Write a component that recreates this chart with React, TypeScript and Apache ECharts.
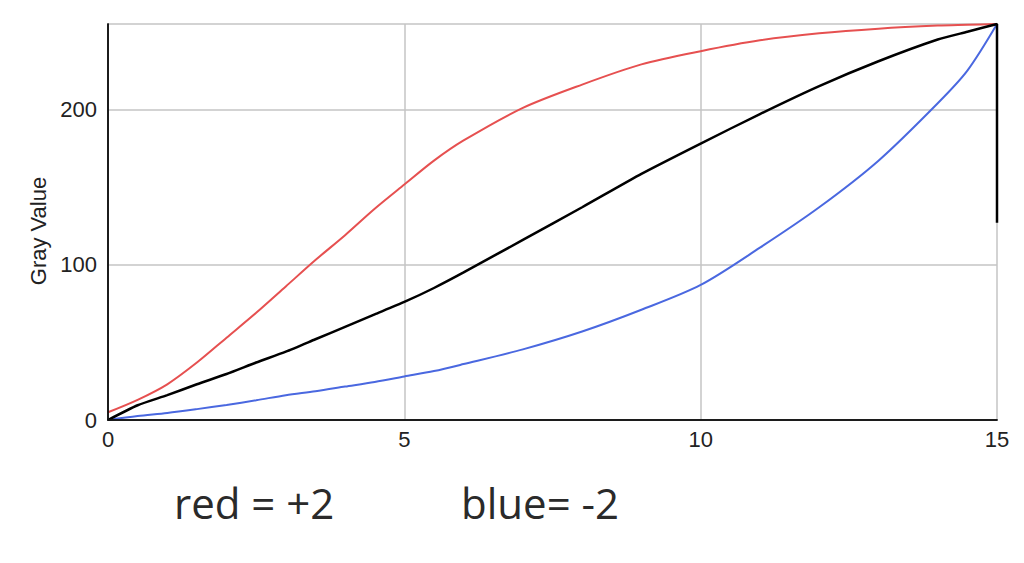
import React, { useEffect, useRef } from "react";
import * as echarts from "echarts";

const xs = [0, 0.5, 1, 1.5, 2, 2.5, 3, 3.5, 4, 4.5, 5, 5.5, 6, 7, 8, 9, 10, 11, 12, 13, 14, 14.5, 15];
const redValues = [5, 13, 23, 37, 53, 69, 86, 103, 119, 136, 151.6, 167, 180, 201, 216, 229, 237.5, 244.5, 249, 252, 254, 254.5, 255];
const blackValues = [0, 9.5, 16, 23, 29.6, 37, 44, 52, 60, 68, 76, 85, 95, 116, 137, 158.5, 178, 197, 215, 231, 245, 250, 255];
const blueValues = [0, 2.5, 4.5, 7, 9.7, 12.7, 16, 18.5, 21.5, 24.5, 28, 31.5, 36, 45.5, 57, 71, 87, 111, 137, 167, 204, 225, 255];
const blackEndDrop = 127;
const xTicks = [0, 5, 10, 15];
const yTicks = [0, 100, 200];
const yMax = 255;
const yAxisTitle = "Gray Value";
const captionRed = "red = +2";
const captionBlue = "blue= -2";

export default function App() {
  const ref = useRef<HTMLDivElement>(null);
  useEffect(() => {
    if (!ref.current) return;
    const chart = echarts.init(ref.current, null, { renderer: "svg" });
    const pairs = (vals: number[]) => xs.map((x, i) => [x, vals[i]]);
    const blackData = pairs(blackValues).concat([[15, blackEndDrop]]);
    const labelFont = {
      color: "#222",
      fontSize: 22,
      fontFamily: "Liberation Sans, Arial, sans-serif",
    };
    const borderAxis = {
      type: "value",
      axisLine: { show: true, lineStyle: { color: "#111", width: 1.5 } },
      axisTick: { show: false },
      axisLabel: { show: false },
      splitLine: { show: false },
      z: 5,
    };
    chart.setOption({
      animation: false,
      backgroundColor: "#ffffff",
      grid: { left: 108, top: 24, width: 889, height: 396 },
      xAxis: [
        {
          type: "value",
          min: xTicks[0],
          max: xTicks[xTicks.length - 1],
          interval: 5,
          axisLine: { show: false },
          axisTick: { show: false },
          axisLabel: { ...labelFont, margin: 8 },
          splitLine: { show: true, lineStyle: { color: "#c4c4c4", width: 1.5 } },
        },
        { ...borderAxis, position: "bottom", min: 0, max: 15 },
        { ...borderAxis, position: "top", min: 0, max: 15 },
      ],
      yAxis: [
        {
          type: "value",
          min: yTicks[0],
          max: yMax,
          interval: 100,
          axisLine: { show: false },
          axisTick: { show: false },
          axisLabel: {
            ...labelFont,
            margin: 11,
            showMaxLabel: false,
            formatter: (v: number) => (yTicks.includes(v) ? String(v) : ""),
          },
          splitLine: { show: true, lineStyle: { color: "#c4c4c4", width: 1.5 } },
        },
        { ...borderAxis, position: "left", min: 0, max: yMax },
        { ...borderAxis, position: "right", min: 0, max: yMax },
      ],
      series: [
        {
          type: "line",
          data: pairs(redValues),
          showSymbol: false,
          smooth: 0.3,
          lineStyle: { color: "#e65050", width: 2 },
          z: 2,
        },
        {
          type: "line",
          data: pairs(blueValues),
          showSymbol: false,
          smooth: 0.3,
          lineStyle: { color: "#4a68e0", width: 2 },
          z: 3,
        },
        {
          type: "line",
          data: blackData,
          showSymbol: false,
          smooth: 0.2,
          lineStyle: { color: "#000000", width: 2.5 },
          z: 4,
        },
      ],
      graphic: [
        {
          type: "text",
          x: 38,
          y: 231,
          rotation: Math.PI / 2,
          style: {
            text: yAxisTitle,
            fill: "#222",
            font: "22px 'Liberation Sans', Arial, sans-serif",
            align: "center",
            verticalAlign: "middle",
          },
        },
        {
          type: "text",
          x: 174,
          y: 502,
          style: {
            text: captionRed,
            fill: "#2a2a2a",
            font: "42px 'Open Sans', sans-serif",
            align: "left",
            verticalAlign: "middle",
          },
        },
        {
          type: "text",
          x: 461,
          y: 502,
          style: {
            text: captionBlue,
            fill: "#2a2a2a",
            font: "42px 'Open Sans', sans-serif",
            align: "left",
            verticalAlign: "middle",
          },
        },
      ],
    });
    return () => chart.dispose();
  }, []);
  return (
    <div
      ref={ref}
      style={{ position: "absolute", left: 0, top: 0, width: 1024, height: 563 }}
    />
  );
}
